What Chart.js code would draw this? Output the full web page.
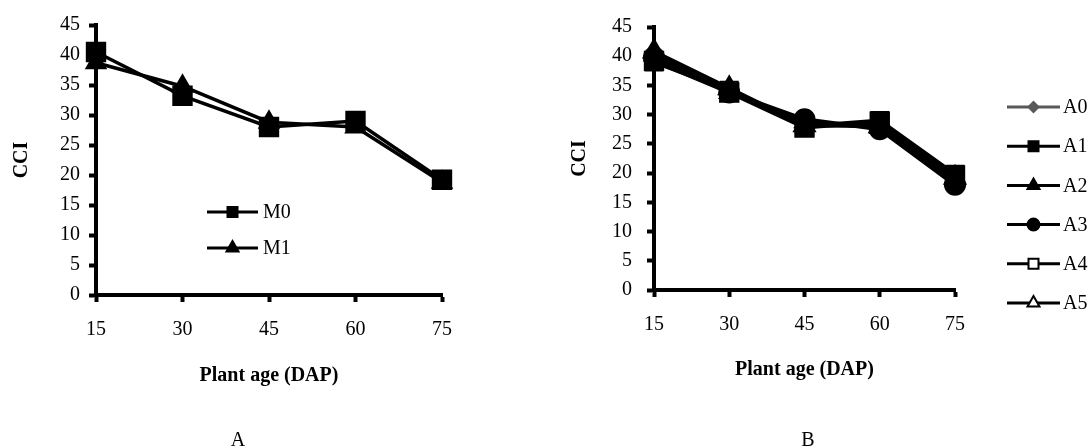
<!DOCTYPE html>
<html><head><meta charset="utf-8">
<script src="https://cdn.jsdelivr.net/npm/chart.js@4.4.1/dist/chart.umd.min.js"></script>
<style>
html,body{margin:0;padding:0;background:#fff;overflow:hidden}
#wrap{position:relative;width:1092px;height:447px;background:#fff}
canvas{position:absolute;top:0}
#cA{left:0}
#cB{left:546px}
</style></head><body>
<div id="wrap"><canvas id="cA" width="546" height="447"></canvas><canvas id="cB" width="546" height="447"></canvas></div>
<script>
// ---------- data ----------
const dapLabels = ['15', '30', '45', '60', '75'];
const yMin = 0, yMax = 45, yStep = 5;
const xTitle = 'Plant age (DAP)';
const yTitle = 'CCI';

// Panel A
const m0 = [40.5, 33.2, 28.0, 29.0, 19.2];
const m1 = [38.7, 34.8, 28.8, 28.0, 18.8];

// Panel B
const a0 = [39.5, 34.0, 28.5, 28.0, 19.0];
const a1 = [39.2, 33.8, 27.8, 28.8, 19.6];
const a2 = [40.8, 34.5, 28.2, 28.0, 19.2];
const a3 = [39.8, 33.8, 29.2, 27.5, 18.0];
const a4 = [39.0, 34.2, 28.0, 29.0, 19.8];
const a5 = [40.2, 33.8, 28.8, 27.8, 18.8];

// ---------- styling ----------
const SERIF = "'Liberation Serif', 'Times New Roman', serif";
Chart.defaults.font.family = SERIF;
Chart.defaults.font.size = 20;
Chart.defaults.color = '#000';

function drawMarker(ctx, style, x, y, s, fill, stroke, lw) {
  ctx.beginPath();
  if (style === 'rect') ctx.rect(x - s, y - s, 2 * s, 2 * s);
  else if (style === 'rectRot') { ctx.moveTo(x, y - s); ctx.lineTo(x + s, y); ctx.lineTo(x, y + s); ctx.lineTo(x - s, y); ctx.closePath(); }
  else if (style === 'triangle') { ctx.moveTo(x, y - s * 1.15); ctx.lineTo(x + s, y + s * 0.6); ctx.lineTo(x - s, y + s * 0.6); ctx.closePath(); }
  else ctx.arc(x, y, s, 0, Math.PI * 2);
  ctx.fillStyle = fill; ctx.fill();
  ctx.lineWidth = lw; ctx.strokeStyle = stroke; ctx.stroke();
}

const decorPlugin = {
  id: 'decor',
  afterDraw(chart, args, opts) {
    const ctx = chart.ctx;
    ctx.save();
    const L = opts.legend;
    chart.data.datasets.forEach((ds, i) => {
      const y = L.y0 + i * L.dy;
      ctx.strokeStyle = ds.borderColor; ctx.lineWidth = 3;
      ctx.beginPath(); ctx.moveTo(L.x0, y); ctx.lineTo(L.x1, y); ctx.stroke();
      const s = ds.pointStyle === 'circle' ? 6 : (ds.pointStyle === 'rectRot' ? 5 : (ds.pointStyle === 'triangle' ? 6 : 5));
      drawMarker(ctx, ds.pointStyle, (L.x0 + L.x1) / 2, y, s, ds.pointBackgroundColor, ds.pointBorderColor, 2);
      ctx.fillStyle = '#000';
      ctx.font = '20px ' + SERIF;
      ctx.textAlign = 'left'; ctx.textBaseline = 'middle';
      ctx.fillText(ds.label, L.tx, y + 1);
    });
    ctx.font = '20px ' + SERIF;
    ctx.textAlign = 'center'; ctx.textBaseline = 'alphabetic';
    ctx.fillStyle = '#000';
    ctx.fillText(opts.letter, opts.letterX, opts.letterY);
    ctx.restore();
  }
};

function ds(label, data, style, r, fill, color, lw, order) {
  return {
    label, data, order,
    borderColor: color, backgroundColor: fill,
    borderWidth: lw, tension: 0,
    pointStyle: style, pointRadius: r, pointHoverRadius: r,
    pointBackgroundColor: fill, pointBorderColor: color, pointBorderWidth: 2
  };
}

function makeOptions(cfg) {
  return {
    responsive: false, animation: false, devicePixelRatio: 1,
    layout: { padding: cfg.padding },
    plugins: {
      legend: { display: false }, tooltip: { enabled: false },
      decor: cfg.decor
    },
    scales: {
      x: {
        type: 'category', offset: false,
        border: { display: true, color: '#000', width: 4 },
        grid: { drawOnChartArea: false, drawTicks: true, tickLength: 7, tickWidth: 4, tickColor: '#000' },
        ticks: { padding: 16, font: { size: 20, family: SERIF }, color: '#000', maxRotation: 0 },
        title: { display: true, text: xTitle, font: { size: 20, weight: 'bold', family: SERIF }, color: '#000', padding: { top: 0, bottom: 0 } },
        afterFit: (s) => { s.height = cfg.xH; }
      },
      y: {
        min: yMin, max: yMax,
        border: { display: true, color: '#000', width: 4 },
        grid: { drawOnChartArea: false, drawTicks: true, tickLength: 7, tickWidth: 4, tickColor: '#000' },
        ticks: { stepSize: yStep, padding: cfg.yPad, font: { size: 20, family: SERIF }, color: '#000' },
        title: { display: true, text: yTitle, font: { size: 20, weight: 'bold', family: SERIF }, color: '#000', padding: { top: cfg.yTitlePad, bottom: 0 } },
        afterFit: (s) => { s.width = cfg.yW; }
      }
    }
  };
}

new Chart(document.getElementById('cA'), {
  type: 'line',
  data: {
    labels: dapLabels,
    datasets: [
      ds('M0', m0, 'rect', 13, '#000', '#000', 3.5, 0),
      ds('M1', m1, 'triangle', 11, '#000', '#000', 3.5, 1)
    ]
  },
  options: makeOptions({
    padding: { left: 0, top: 25, right: 104, bottom: 59 },
    xH: 93, yW: 96, yPad: 9, yTitlePad: 10,
    decor: { legend: { x0: 207, x1: 258, tx: 263, y0: 212, dy: 36 }, letter: 'A', letterX: 238, letterY: 446 }
  }),
  plugins: [decorPlugin]
});

new Chart(document.getElementById('cB'), {
  type: 'line',
  data: {
    labels: dapLabels,
    datasets: [
      ds('A0', a0, 'rectRot', 7, '#595959', '#595959', 3, 9),
      ds('A1', a1, 'rect', 13, '#000', '#000', 4, 0),
      ds('A2', a2, 'triangle', 12, '#000', '#000', 4, 3),
      ds('A3', a3, 'circle', 10, '#000', '#000', 4, 1),
      ds('A4', a4, 'rect', 12, '#fff', '#000', 4, 5),
      ds('A5', a5, 'triangle', 11, '#fff', '#000', 4, 6)
    ]
  },
  options: makeOptions({
    padding: { left: 0, top: 25, right: 137, bottom: 65 },
    xH: 92, yW: 108, yPad: 15, yTitlePad: 22,
    decor: { legend: { x0: 461, x1: 514, tx: 517, y0: 107, dy: 39.2 }, letter: 'B', letterX: 262, letterY: 446 }
  }),
  plugins: [decorPlugin]
});
</script>
</body></html>
